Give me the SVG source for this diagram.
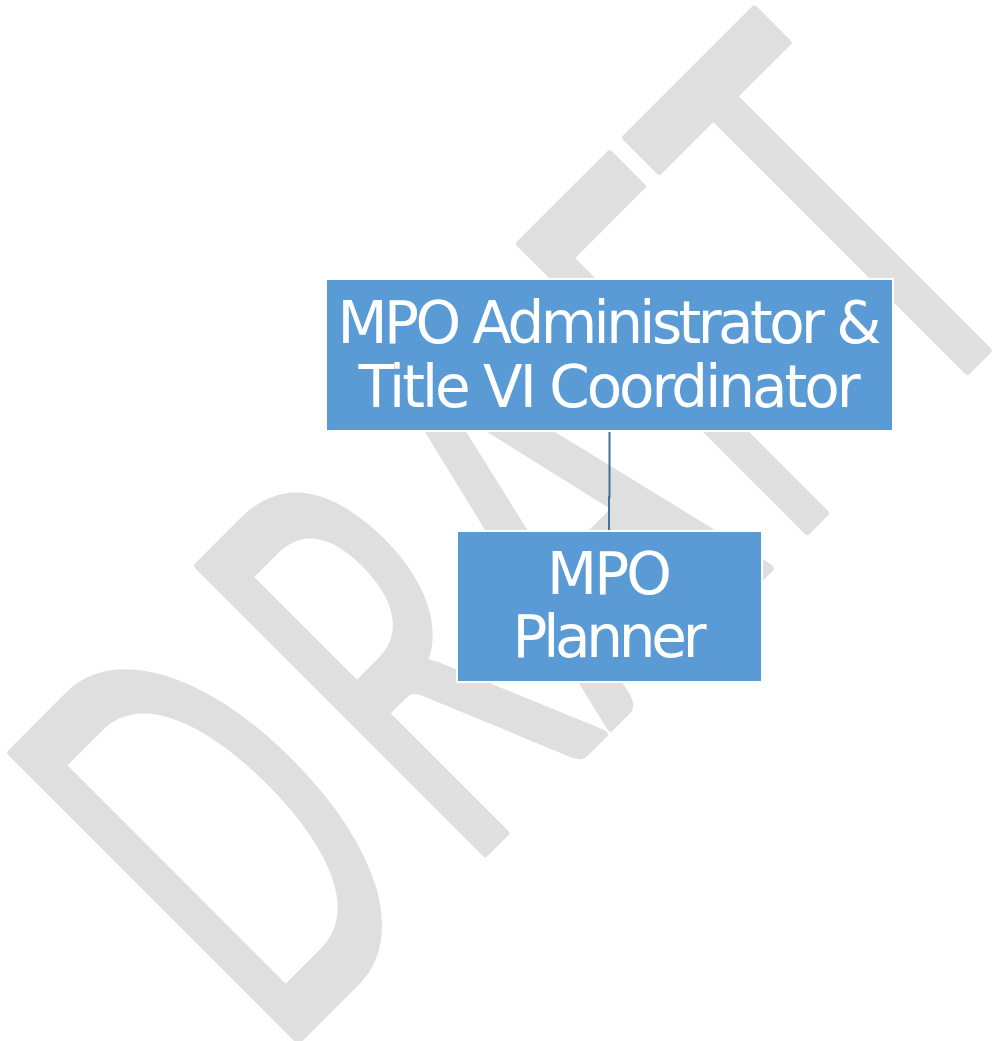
<svg xmlns="http://www.w3.org/2000/svg" width="994" height="1041" viewBox="0 0 994 1041">
  <style>
    .wm { font-family: Lato, "Open Sans", sans-serif; font-size: 566px; fill: #dfdfdf; stroke: #dfdfdf; stroke-width: 8; stroke-linejoin: round; text-anchor: middle; }
    .box { fill: #5b9bd5; stroke: #ffffff; stroke-width: 2; }
    .label { font-family: "DejaVu Sans", "Liberation Sans", sans-serif; font-size: 58px; fill: #ffffff; text-anchor: middle; }
    .link { fill: none; stroke: #41719c; stroke-width: 2; }
  </style>

  <rect width="994" height="1041" fill="#ffffff"/>

  <!-- diagonal watermark, letters laid out along a -45 degree baseline -->
  <g id="watermark" transform="rotate(-45)">
    <text class="wm" transform="translate(-436,946) scale(0.55,1)">D</text>
    <text class="wm" transform="translate(-190,946) scale(0.57,1)">R</text>
    <text class="wm" transform="translate(30,946) scale(0.6,1)">A</text>
    <text class="wm" transform="translate(250,946) scale(0.52,1)">F</text>
    <text class="wm" transform="translate(436,946) scale(0.58,1)">T</text>
  </g>

  <!-- reporting line -->
  <g id="connectors">
    <path class="link" d="M609.5,431 V497 H609 V531"/>
  </g>

  <g id="node-administrator">
    <rect class="box" x="326" y="279" width="567" height="152"/>
    <text class="label" x="609.5" y="343" textLength="544" lengthAdjust="spacing">MPO Administrator &amp;</text>
    <text class="label" x="609.5" y="407" textLength="502" lengthAdjust="spacing">Title VI Coordinator</text>
  </g>

  <g id="node-planner">
    <rect class="box" x="457" y="531" width="305" height="151"/>
    <text class="label" x="609.5" y="594" textLength="125" lengthAdjust="spacing">MPO</text>
    <text class="label" x="609.5" y="657" textLength="194" lengthAdjust="spacing">Planner</text>
  </g>
</svg>
